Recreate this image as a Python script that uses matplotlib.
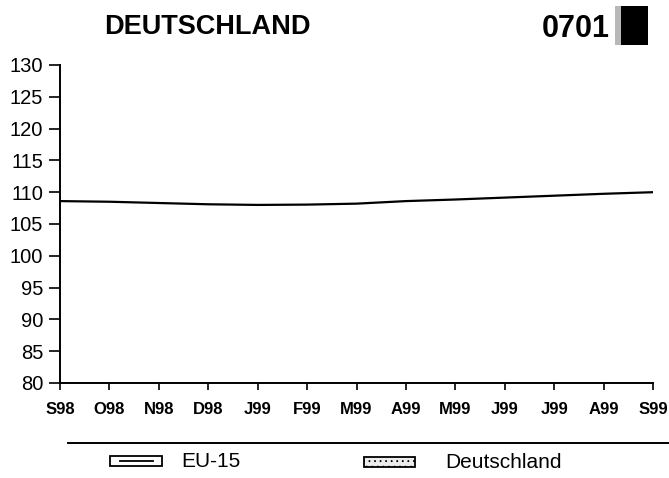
"""
Monthly index chart for Deutschland vs EU-15, Sep 1998 - Sep 1999
"""

import matplotlib
matplotlib.use('Agg')
import matplotlib.pyplot as plt
from matplotlib.lines import Line2D
from matplotlib.patches import Rectangle

TITLE = 'DEUTSCHLAND'
CODE = '0701'
MONTHS = ['S98', 'O98', 'N98', 'D98', 'J99', 'F99', 'M99',
          'A99', 'M99', 'J99', 'J99', 'A99', 'S99']
EU15 = [108.6, 108.5, 108.3, 108.1, 108.0, 108.05, 108.2,
        108.6, 108.85, 109.15, 109.45, 109.75, 110.0]
Y_TICKS = [80, 85, 90, 95, 100, 105, 110, 115, 120, 125, 130]
LEGEND = ['EU-15', 'Deutschland']

W, H = 669, 478

plt.rcParams['font.family'] = ['Liberation Sans', 'DejaVu Sans']
plt.rcParams['hatch.linewidth'] = 0.6
plt.rcParams['hatch.color'] = '#707070'


def fx(px):
  return px / W


def fy(py):
  return 1 - py / H


fig = plt.figure(figsize=(W / 100, H / 100), dpi=100, facecolor='white')
ax = fig.add_axes([fx(60), fy(383), fx(653) - fx(60), fy(65) - fy(383)])

xs = list(range(len(MONTHS)))
ax.plot(xs, EU15, color='black', linewidth=1.6, solid_capstyle='butt')

ax.set_xlim(0, len(MONTHS) - 1)
ax.set_ylim(Y_TICKS[0], Y_TICKS[-1])
ax.set_xticks(xs)
ax.set_xticklabels(MONTHS, fontsize=12, fontweight='bold')
ax.set_yticks(Y_TICKS)
ax.set_yticklabels([str(v) for v in Y_TICKS], fontsize=14.5)

for side in ('top', 'right'):
  ax.spines[side].set_visible(False)
for side in ('left', 'bottom'):
  ax.spines[side].set_linewidth(1.4)
ax.tick_params(axis='y', direction='out', length=8, width=1.2, pad=4)
ax.tick_params(axis='x', direction='out', length=5, width=1.2, pad=9)

# header
fig.text(fx(207), fy(34), TITLE, fontsize=19.5, fontweight='bold',
         ha='center', va='baseline')
fig.text(fx(610), fy(37), CODE, fontsize=22, fontweight='bold',
         ha='right', va='baseline')
fig.patches.append(Rectangle((fx(615), fy(45)), fx(8), fy(6) - fy(45),
                             transform=fig.transFigure, facecolor='#b8b8b8',
                             edgecolor='none', hatch='....'))
fig.patches.append(Rectangle((fx(621), fy(45)), fx(27), fy(6) - fy(45),
                             transform=fig.transFigure, facecolor='black',
                             edgecolor='none'))

# legend block
fig.lines.append(Line2D([fx(68), 1.0], [fy(443), fy(443)], transform=fig.transFigure,
                        color='black', linewidth=1.4))
fig.patches.append(Rectangle((fx(110), fy(466)), fx(52), fy(456) - fy(466),
                             transform=fig.transFigure, facecolor='white',
                             edgecolor='black', linewidth=1.3))
fig.lines.append(Line2D([fx(120), fx(153)], [fy(461), fy(461)], transform=fig.transFigure,
                        color='black', linewidth=1.3))
fig.text(fx(181), fy(461.5), LEGEND[0], fontsize=15, ha='left', va='center')

fig.patches.append(Rectangle((fx(364), fy(467)), fx(51), fy(457) - fy(467),
                             transform=fig.transFigure, facecolor='#ececec',
                             edgecolor='black', linewidth=1.3, hatch='...'))
fig.text(fx(445), fy(462), LEGEND[1], fontsize=15, ha='left', va='center')

fig.savefig('out.png', dpi=100, facecolor='white')
plt.close(fig)
